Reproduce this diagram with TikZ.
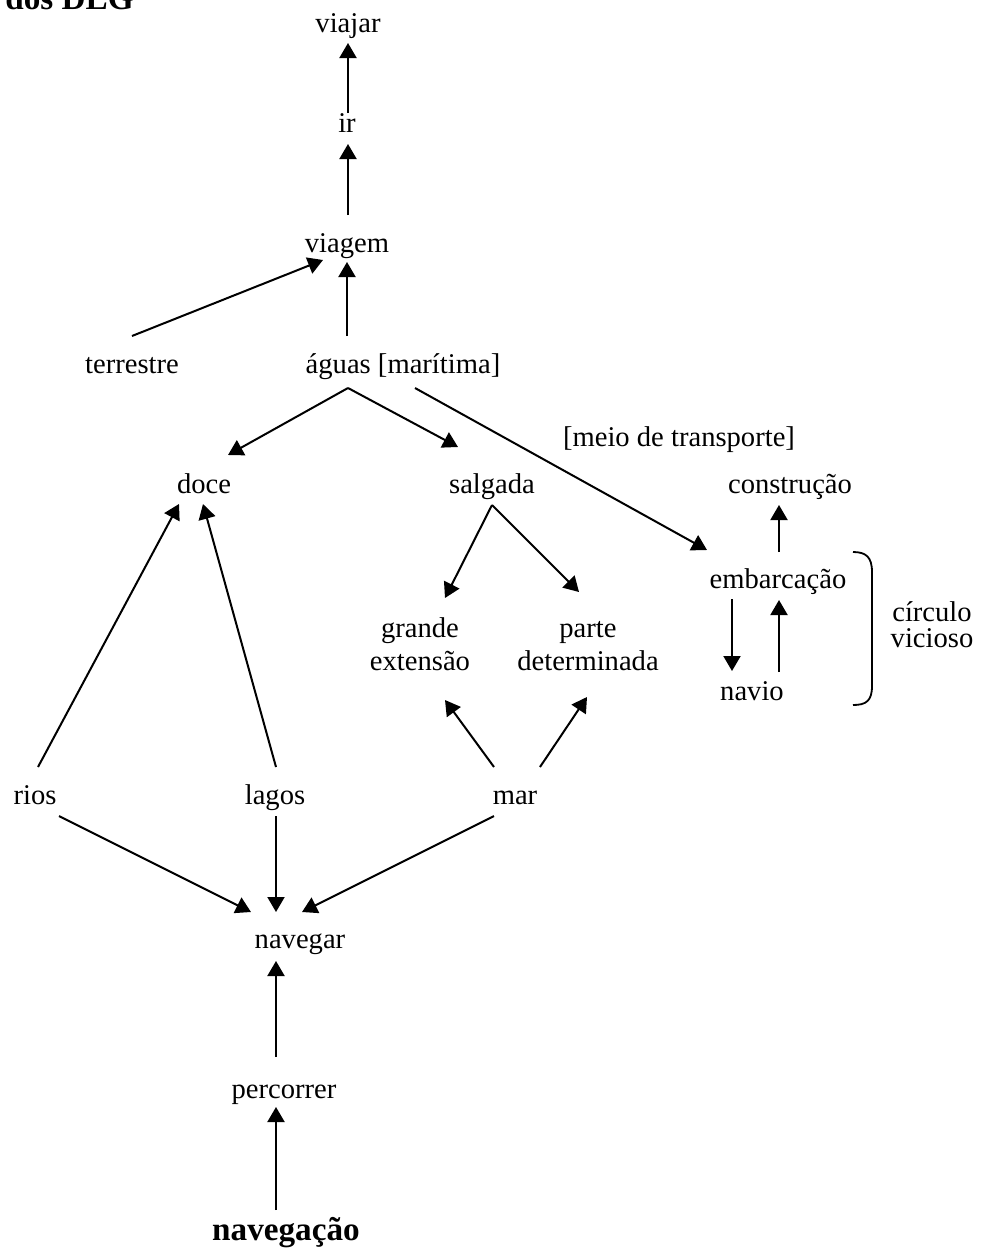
\documentclass[tikz,border=0pt]{standalone}
\usepackage{fontspec}
\setmainfont{Liberation Serif}
\usetikzlibrary{arrows.meta,calc}
\begin{document}
\begin{tikzpicture}[x=0.5pt,y=-0.5pt,
  lbl/.style={inner sep=0pt, anchor=base, font=\fontsize{14.3}{16.5}\selectfont},
  bld/.style={inner sep=0pt, anchor=base, font=\fontsize{16.6}{19}\selectfont\bfseries},
  arr/.style={line width=1pt, -{Triangle[length=7.5pt,width=8.5pt]}},
  brk/.style={line width=0.9pt}]
\useasboundingbox (0,0) rectangle (994,1248);
% nodes
\node[bld, anchor=base west] (title) at (5,9.5) {dos DLG};
\node[lbl] (viajar) at (348,32) {viajar};
\node[lbl] (ir) at (347,132) {ir};
\node[lbl] (viagem) at (347,252) {viagem};
\node[lbl] (terr) at (132,373) {terrestre};
\node[lbl] (aguas) at (403,373) {águas [marítima]};
\node[lbl] (meio) at (679,446) {[meio de transporte]};
\node[lbl] (doce) at (204,493) {doce};
\node[lbl] (salg) at (492,493) {salgada};
\node[lbl] (constr) at (790,493) {construção};
\node[lbl] (embar) at (778,588) {embarcação};
\node[lbl] (grande) at (420,637) {\begin{tabular}[t]{@{}c@{}}grande\\extensão\end{tabular}};
\node[lbl] (parte) at (588,637) {\begin{tabular}[t]{@{}c@{}}parte\\determinada\end{tabular}};
\node[lbl] (navio) at (752,700) {navio};
\node[lbl] (circ) at (932,621) {\begin{tabular}[t]{@{}c@{}}círculo\\[-3.5pt]vicioso\end{tabular}};
\node[lbl] (rios) at (35,804) {rios};
\node[lbl] (lagos) at (275,804) {lagos};
\node[lbl] (mar) at (515,804) {mar};
\node[lbl] (naveg) at (300,948) {navegar};
\node[lbl] (perc) at (284,1098) {percorrer};
\node[bld, font=\fontsize{16.6}{19}\selectfont\bfseries] (navegacao) at (286,1240) {navegação};
% connectors
\draw[arr] ($(ir.base)+(1,-19)$) -- ($(viajar.base)+(0,11)$);
\draw[arr] ($(viagem.base)+(1,-37)$) -- ($(ir.base)+(1,12)$);
\draw[arr] ($(terr.base)+(0,-37)$) -- ($(viagem.base)+(-24,8)$);
\draw[arr] ($(aguas.base)+(-56,-37)$) -- ($(viagem.base)+(0,10)$);
\draw[arr] ($(aguas.base)+(-55,15)$) -- ($(doce.base)+(24,-38)$);
\draw[arr] ($(aguas.base)+(-55,15)$) -- ($(salg.base)+(-34,-46)$);
\draw[arr] ($(aguas.base)+(12,15)$) -- ($(embar.base)+(-71,-38)$);
\draw[arr] ($(salg.base)+(0,12)$) -- ($(grande.base)+(25,-39)$);
\draw[arr] ($(salg.base)+(0,12)$) -- ($(parte.base)+(-9,-45)$);
\draw[arr] ($(embar.base)+(1,-36)$) -- ($(constr.base)+(-11,12)$);
\draw[arr] ($(embar.base)+(-46,11)$) -- ($(navio.base)+(-20,-29)$);
\draw[arr] ($(navio.base)+(27,-28)$) -- ($(embar.base)+(1,12)$);
\draw[arr] ($(rios.base)+(3,-37)$) -- ($(doce.base)+(-25,11)$);
\draw[arr] ($(lagos.base)+(1,-37)$) -- ($(doce.base)+(-1,11)$);
\draw[arr] ($(mar.base)+(-21,-37)$) -- ($(grande.base)+(25,63)$);
\draw[arr] ($(mar.base)+(25,-37)$) -- ($(parte.base)+(-1,60)$);
\draw[arr] ($(rios.base)+(24,12)$) -- ($(naveg.base)+(-49,-36)$);
\draw[arr] ($(lagos.base)+(1,12)$) -- ($(naveg.base)+(-24,-36)$);
\draw[arr] ($(mar.base)+(-21,12)$) -- ($(naveg.base)+(2,-36)$);
\draw[arr] ($(perc.base)+(-8,-41)$) -- ($(naveg.base)+(-24,13)$);
\draw[arr] ($(navegacao.base)+(-10,-30)$) -- ($(perc.base)+(-8,9)$);
% bracket
\draw[brk] (853,552) .. controls (866,552) and (872,557) .. (872,572) -- (872,686) .. controls (872,701) and (866,705) .. (853,705);
\end{tikzpicture}
\end{document}
